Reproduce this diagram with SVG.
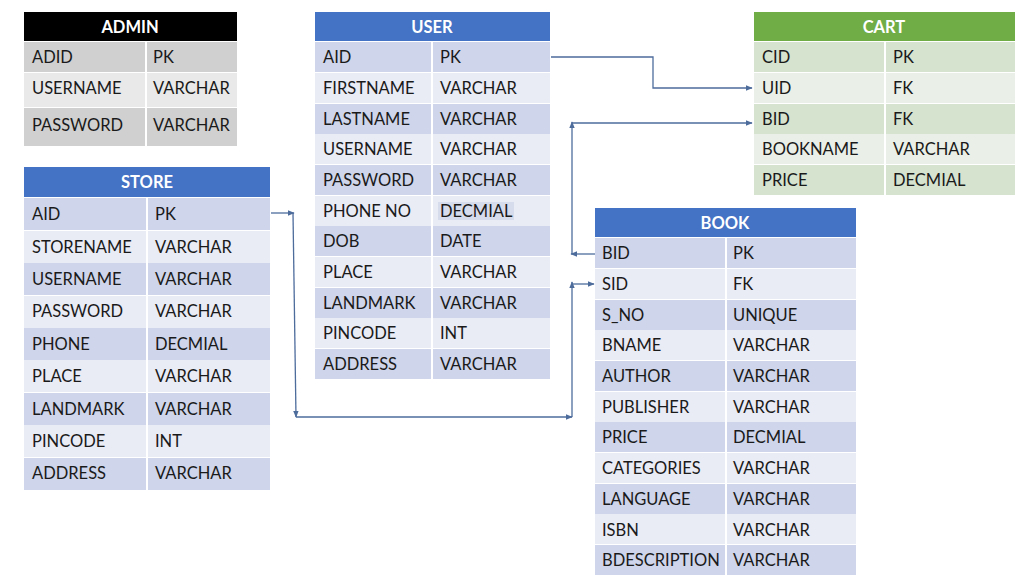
<svg xmlns="http://www.w3.org/2000/svg" width="1024" height="576" viewBox="0 0 1024 576">
<defs>
<marker id="arr" viewBox="0 0 10 10" refX="9" refY="5" markerWidth="7" markerHeight="7" markerUnits="userSpaceOnUse" orient="auto">
<path d="M0,1 L10,5 L0,9 Z" fill="#4d6c9c"/>
</marker>
<style>
.t{font-family:Lato,"Liberation Sans",sans-serif;font-size:16.5px;fill:#1a1a1a;dominant-baseline:central}
.h{font-family:Lato,"Liberation Sans",sans-serif;font-size:16.5px;font-weight:bold;fill:#fff;text-anchor:middle;dominant-baseline:central}
.sep{stroke:#fff;stroke-width:2}
.bd{fill:#cfd5ea}.bl{fill:#e9ebf5}
.gd{fill:#d5e3cf}.gl{fill:#eaf0e7}
.kd{fill:#d0d0d0}.kl{fill:#e9e9e9}
.c{fill:none;stroke:#4d6c9c;stroke-width:1.3;marker-end:url(#arr)}
</style>
</defs>
<rect width="1024" height="576" fill="#fff"/>

<g id="admin">
<rect x="24" y="12" width="213" height="29" fill="#000"/>
<text class="h" x="130" y="27">ADMIN</text>
<rect class="kd" x="24" y="42" width="213" height="30"/>
<rect class="kl" x="24" y="73" width="213" height="34"/>
<rect class="kd" x="24" y="108" width="213" height="38"/>
<line class="sep" x1="146" y1="42" x2="146" y2="146"/>
<text class="t" x="32" y="57">ADID</text><text class="t" x="153" y="57">PK</text>
<text class="t" x="32" y="88">USERNAME</text><text class="t" x="153" y="88">VARCHAR</text>
<text class="t" x="32" y="125">PASSWORD</text><text class="t" x="153" y="125">VARCHAR</text>
</g>

<g id="user">
<rect x="315" y="12" width="235" height="29" fill="#4472c4"/>
<text class="h" x="432" y="27">USER</text>
<rect class="bd" x="315" y="42" width="235" height="30"/>
<rect class="bl" x="315" y="73" width="235" height="30"/>
<rect class="bd" x="315" y="104" width="235" height="30"/>
<rect class="bl" x="315" y="134" width="235" height="30"/>
<rect class="bd" x="315" y="165" width="235" height="30"/>
<rect class="bl" x="315" y="196" width="235" height="30"/>
<rect class="bd" x="315" y="226" width="235" height="30"/>
<rect class="bl" x="315" y="257" width="235" height="30"/>
<rect class="bd" x="315" y="288" width="235" height="30"/>
<rect class="bl" x="315" y="318" width="235" height="30"/>
<rect class="bd" x="315" y="349" width="235" height="30"/>
<line class="sep" x1="432" y1="42" x2="432" y2="380"/>
<rect x="438" y="202" width="76" height="18" fill="#d7dcec"/>
<text class="t" x="323" y="57">AID</text><text class="t" x="440" y="57">PK</text>
<text class="t" x="323" y="88">FIRSTNAME</text><text class="t" x="440" y="88">VARCHAR</text>
<text class="t" x="323" y="119">LASTNAME</text><text class="t" x="440" y="119">VARCHAR</text>
<text class="t" x="323" y="149">USERNAME</text><text class="t" x="440" y="149">VARCHAR</text>
<text class="t" x="323" y="180">PASSWORD</text><text class="t" x="440" y="180">VARCHAR</text>
<text class="t" x="323" y="211">PHONE NO</text><text class="t" x="440" y="211">DECMIAL</text>
<text class="t" x="323" y="241">DOB</text><text class="t" x="440" y="241">DATE</text>
<text class="t" x="323" y="272">PLACE</text><text class="t" x="440" y="272">VARCHAR</text>
<text class="t" x="323" y="303">LANDMARK</text><text class="t" x="440" y="303">VARCHAR</text>
<text class="t" x="323" y="333">PINCODE</text><text class="t" x="440" y="333">INT</text>
<text class="t" x="323" y="364">ADDRESS</text><text class="t" x="440" y="364">VARCHAR</text>
</g>

<g id="cart">
<rect x="754" y="12" width="261" height="29" fill="#70ad47"/>
<text class="h" x="884" y="27">CART</text>
<rect class="gd" x="754" y="42" width="261" height="30"/>
<rect class="gl" x="754" y="73" width="261" height="30"/>
<rect class="gd" x="754" y="104" width="261" height="30"/>
<rect class="gl" x="754" y="134" width="261" height="30"/>
<rect class="gd" x="754" y="165" width="261" height="30"/>
<line class="sep" x1="885" y1="42" x2="885" y2="195"/>
<text class="t" x="762" y="57">CID</text><text class="t" x="893" y="57">PK</text>
<text class="t" x="762" y="88">UID</text><text class="t" x="893" y="88">FK</text>
<text class="t" x="762" y="119">BID</text><text class="t" x="893" y="119">FK</text>
<text class="t" x="762" y="149">BOOKNAME</text><text class="t" x="893" y="149">VARCHAR</text>
<text class="t" x="762" y="180">PRICE</text><text class="t" x="893" y="180">DECMIAL</text>
</g>

<g id="store">
<rect x="24" y="167" width="246" height="30" fill="#4472c4"/>
<text class="h" x="147" y="182">STORE</text>
<rect class="bd" x="24" y="198" width="246" height="32"/>
<rect class="bl" x="24" y="231" width="246" height="32"/>
<rect class="bd" x="24" y="263" width="246" height="32"/>
<rect class="bl" x="24" y="296" width="246" height="32"/>
<rect class="bd" x="24" y="328" width="246" height="32"/>
<rect class="bl" x="24" y="360" width="246" height="32"/>
<rect class="bd" x="24" y="393" width="246" height="32"/>
<rect class="bl" x="24" y="425" width="246" height="32"/>
<rect class="bd" x="24" y="458" width="246" height="32"/>
<line class="sep" x1="147" y1="198" x2="147" y2="490"/>
<text class="t" x="32" y="214">AID</text><text class="t" x="155" y="214">PK</text>
<text class="t" x="32" y="247">STORENAME</text><text class="t" x="155" y="247">VARCHAR</text>
<text class="t" x="32" y="279">USERNAME</text><text class="t" x="155" y="279">VARCHAR</text>
<text class="t" x="32" y="311">PASSWORD</text><text class="t" x="155" y="311">VARCHAR</text>
<text class="t" x="32" y="344">PHONE</text><text class="t" x="155" y="344">DECMIAL</text>
<text class="t" x="32" y="376">PLACE</text><text class="t" x="155" y="376">VARCHAR</text>
<text class="t" x="32" y="409">LANDMARK</text><text class="t" x="155" y="409">VARCHAR</text>
<text class="t" x="32" y="441">PINCODE</text><text class="t" x="155" y="441">INT</text>
<text class="t" x="32" y="473">ADDRESS</text><text class="t" x="155" y="473">VARCHAR</text>
</g>

<g id="book">
<rect x="595" y="208" width="261" height="29" fill="#4472c4"/>
<text class="h" x="725" y="223">BOOK</text>
<rect class="bd" x="595" y="238" width="261" height="30"/>
<rect class="bl" x="595" y="269" width="261" height="30"/>
<rect class="bd" x="595" y="300" width="261" height="30"/>
<rect class="bl" x="595" y="330" width="261" height="30"/>
<rect class="bd" x="595" y="361" width="261" height="30"/>
<rect class="bl" x="595" y="392" width="261" height="30"/>
<rect class="bd" x="595" y="422" width="261" height="30"/>
<rect class="bl" x="595" y="453" width="261" height="30"/>
<rect class="bd" x="595" y="484" width="261" height="30"/>
<rect class="bl" x="595" y="514" width="261" height="30"/>
<rect class="bd" x="595" y="545" width="261" height="30"/>
<line class="sep" x1="726" y1="238" x2="726" y2="576"/>
<text class="t" x="602" y="253">BID</text><text class="t" x="733" y="253">PK</text>
<text class="t" x="602" y="284">SID</text><text class="t" x="733" y="284">FK</text>
<text class="t" x="602" y="315">S_NO</text><text class="t" x="733" y="315">UNIQUE</text>
<text class="t" x="602" y="345">BNAME</text><text class="t" x="733" y="345">VARCHAR</text>
<text class="t" x="602" y="376">AUTHOR</text><text class="t" x="733" y="376">VARCHAR</text>
<text class="t" x="602" y="407">PUBLISHER</text><text class="t" x="733" y="407">VARCHAR</text>
<text class="t" x="602" y="437">PRICE</text><text class="t" x="733" y="437">DECMIAL</text>
<text class="t" x="602" y="468">CATEGORIES</text><text class="t" x="733" y="468">VARCHAR</text>
<text class="t" x="602" y="499">LANGUAGE</text><text class="t" x="733" y="499">VARCHAR</text>
<text class="t" x="602" y="530">ISBN</text><text class="t" x="733" y="530">VARCHAR</text>
<text class="t" x="602" y="560">BDESCRIPTION</text><text class="t" x="733" y="560">VARCHAR</text>
</g>

<g id="connectors">
<path class="c" d="M551,57 H653 V88 H752"/>
<path class="c" d="M595,254 H571"/>
<path class="c" d="M572,254 V122"/>
<path class="c" d="M572,123 H752"/>
<path class="c" d="M271,213 H294"/>
<path class="c" d="M293,213 L296,417"/>
<path class="c" d="M296,417 H572"/>
<path class="c" d="M572,417 V282"/>
<path class="c" d="M572,284 H594"/>
</g>
</svg>
